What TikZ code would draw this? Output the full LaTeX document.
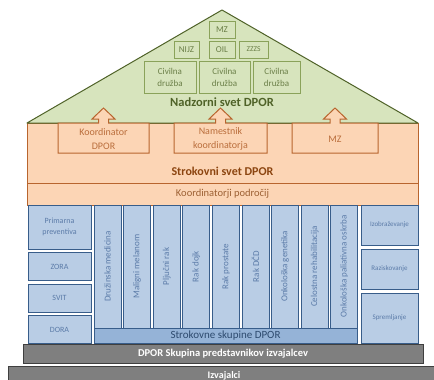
\documentclass[tikz,border=0pt]{standalone}
\usepackage{fontspec}
\setmainfont{Carlito}
\usetikzlibrary{positioning}
\definecolor{roofgreen}{HTML}{D7E4BD}
\definecolor{roofline}{HTML}{4F6228}
\definecolor{roofbox}{HTML}{8AA25A}
\definecolor{rooftext}{HTML}{6B7F48}
\definecolor{svetfill}{HTML}{FCD5B5}
\definecolor{svetline}{HTML}{B8652E}
\definecolor{svettext}{HTML}{BA6E3C}
\definecolor{svetdark}{HTML}{8C4510}
\definecolor{groupfill}{HTML}{B9CDE5}
\definecolor{groupband}{HTML}{95B3D7}
\definecolor{groupline}{HTML}{385D8A}
\definecolor{grouptext}{HTML}{5B7BA8}
\definecolor{basefill}{HTML}{7F7F7F}
\definecolor{baseline}{HTML}{3F3F3F}
\newcommand{\fs}[1]{\fontsize{#1}{#1}\selectfont}
\tikzset{roof/.style={fill=roofgreen,draw=roofline,line width=1pt,line join=round},
member/.style={rectangle,draw=roofbox,line width=.8pt,inner sep=1pt,text=rooftext,font=\fs{9},align=center},
svet/.style={rectangle,fill=svetfill,draw=svetline,line width=1pt,inner sep=1pt,text=svetdark,align=center},
lead/.style={fill=svetfill,draw=svetline,line width=1pt,line join=miter},
leadtext/.style={text=svettext,font=\fontsize{10}{14}\selectfont,align=center,inner sep=0pt},
group/.style={rectangle,fill=groupfill,draw=groupline,line width=.8pt,inner sep=1pt,text=grouptext,align=center},
column/.style={group,minimum width=123pt,minimum height=27pt,font=\fs{9}},
base/.style={rectangle,fill=basefill,draw=baseline,line width=.8pt,text=white,font=\bfseries\fs{10.5},inner sep=1pt},
every picture/.style={line cap=round}}
\begin{document}
\begin{tikzpicture}[x=1pt,y=-1pt]
\clip (0,0) rectangle (434,380);
% strokovni svet with the band below it
\node[svet,minimum width=391pt,minimum height=60pt] (svet) at (222.5,153) {};
\node[text=svetdark,font=\bfseries\fs{12}] (svettxt) at (222.5,171) {Strokovni svet DPOR};
\node[svet,minimum width=391pt,minimum height=22pt,text=svetdark!85,font=\fs{10.5}] (podrocja) at (222.5,194) {Koordinatorji področij};
% roof
\filldraw[roof] (27,123) -- (222,10) -- (418,123) -- cycle;
\node[text=roofline,font=\bfseries\fs{12.5}] (nadzor) at (222,102) {Nadzorni svet DPOR};
\node[member,minimum width=26pt,minimum height=17pt] (mz) at (222,29.5) {MZ};
\node[member,minimum width=25pt,minimum height=17pt] (nijz) at (186.5,49.5) {NIJZ};
\node[member,minimum width=26pt,minimum height=17pt] (oil) at (222,49.5) {OIL};
\node[member,minimum width=29pt,minimum height=17pt,font=\fs{7.5}] (zzzs) at (253.5,49.5) {ZZZS};
\foreach \n/\x/\w in {1/170/52,2/224.5/51,3/276.5/47}
  \node[member,minimum width=\w pt,minimum height=32pt,font=\fontsize{9}{12}\selectfont] (civ\n) at (\x,77) {Civilna\\družba};
% leaders with arrows up into the roof
\foreach \n/\a/\b/\txt in {koord/58/149/{Koordinator\\DPOR},namest/174/267/{Namestnik\\koordinatorja},mzsvet/292/378/MZ}{
  \pgfmathsetmacro\c{(\a+\b)/2}
  \filldraw[lead] (\a,123) -- (\a,153) -- (\b,153) -- (\b,123) -- (\c+5,123) -- (\c+5,119) -- (\c+11.5,119) -- (\c,108) -- (\c-11.5,119) -- (\c-5,119) -- (\c-5,123) -- cycle;
  \node[leadtext] (\n) at (\c,139) {\txt};
}
% programmes on the left
\node[group,minimum width=63pt,minimum height=44pt,font=\fontsize{8}{11}\selectfont] (prim) at (59.5,227) {Primarna\\preventiva};
\foreach \n/\y in {ZORA/266.5,SVIT/298,DORA/329.5}
  \node[group,minimum width=63pt,minimum height=28pt,font=\fs{8}] (\n) at (59.5,\y) {\n};
% expert groups
\foreach \t [count=\i] in {Družinska medicina,Maligni melanom,Pljučni rak,Rak dojk,Rak prostate,Rak DČD,Onkološka genetika,Celostna rehabilitacija,Onkološka paliativna oskrba}
  \node[column,rotate=90] (col\i) at ({107.5+(\i-1)*29.6},266.5) {\t};
\node[group,fill=groupband,minimum width=263pt,minimum height=15pt,text=groupline!80!black,font=\fs{11}] (skupine) at (225.5,335.5) {Strokovne skupine DPOR};
% support on the right
\node[group,minimum width=57pt,minimum height=40pt,font=\fs{7}] (izob) at (389.5,225) {Izobraževanje};
\node[group,minimum width=57pt,minimum height=40pt,font=\fs{7}] (razisk) at (389.5,269) {Raziskovanje};
\node[group,minimum width=57pt,minimum height=50pt,font=\fs{7}] (sprem) at (389.5,318) {Spremljanje};
% steps at the bottom
\node[base,minimum width=400pt,minimum height=19pt] (predst) at (223,353.5) {DPOR Skupina predstavnikov izvajalcev};
\node[base,minimum width=432pt,minimum height=20pt,font=\bfseries\fs{10}] (izvaj) at (224,376) {Izvajalci};
\end{tikzpicture}
\end{document}
